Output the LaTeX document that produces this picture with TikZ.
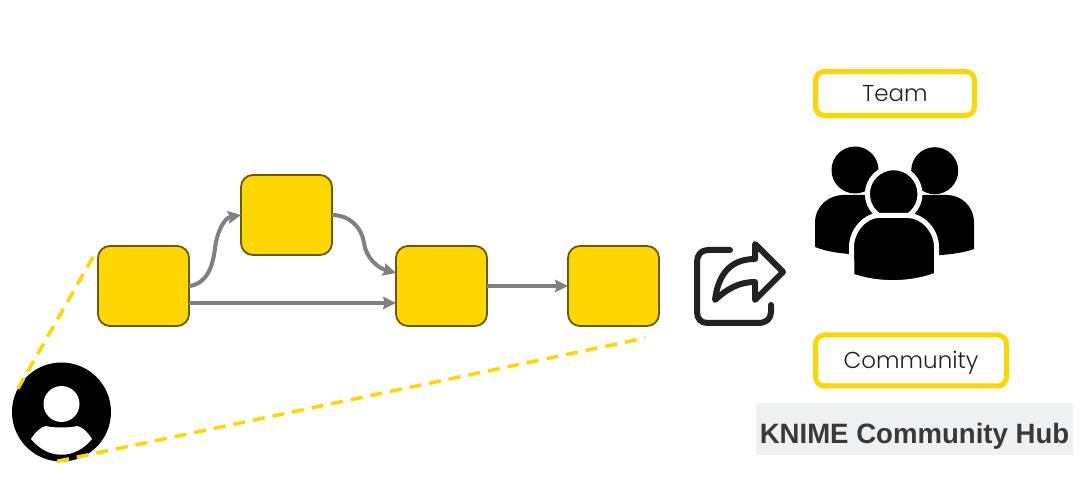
\documentclass[tikz,border=0pt]{standalone}
\usepackage{fontspec}
\setmainfont{Poppins Light}
\newfontfamily\hubfont[FakeStretch=0.985]{Liberation Sans}
\usetikzlibrary{arrows.meta, positioning}
\definecolor{hubyellow}{HTML}{FFD700}
\definecolor{hubborder}{HTML}{6B5A00}
\definecolor{hubgray}{HTML}{808080}
\definecolor{hubdark}{HTML}{222222}
\definecolor{hubtext}{HTML}{3B3838}
\definecolor{hubback}{HTML}{EFF0F2}

\begin{document}
\begin{tikzpicture}[x=1pt, y=-1pt, 
                    main node/.style= {rectangle,
                      rounded corners=12pt,
                      fill=hubyellow,
                      draw=hubborder,
                      line width=1.8pt,
                      outer sep=0pt,
                      minimum width=91pt,
                      minimum height=80pt},
                    label box/.style= {rectangle,
                      rounded corners=9pt,
                      fill=white,
                      draw=hubyellow,
                      line width=5pt,
                      outer sep=0pt,
                      text=hubdark,
                      text height=17pt,
                      text depth=0pt,
                      font=\fontsize{23}{27}\selectfont},
                    flow/.style= {draw=hubgray,
                      line width=4pt,
                      -{Stealth[length=13pt,width=12.5pt,inset=2pt]}},
                    guide/.style= {draw=hubyellow,
                      line width=3.5pt,
                      dash pattern=on 12pt off 8pt},
                    icon line/.style= {draw=hubdark,
                      line width=6pt,
                      line cap=round,
                      line join=round}]
  \useasboundingbox (0,0) rectangle (1082,502);

  \node[main node] (source) at (143.5,286) {};
  \node[main node] (upper) at (286.5,215) {};
  \node[main node] (merge) at (441.5,286) {};
  \node[main node] (target) at (613.5,286) {};

  \node[circle, fill=black, minimum size=99pt, inner sep=0pt, outer sep=0pt] (user) at (61.5,412) {};
  \coordinate (corner) at (97,250);
  \coordinate (below) at (645,338);

  \fill[white] (61.5,404) circle (18);
  \fill[white] (31,439) .. controls (36,431) and (41,427) .. (46,426)
    .. controls (52,428) and (71,428) .. (77,426)
    .. controls (82,427) and (87,431) .. (92,439)
    .. controls (75,460) and (48,460) .. cycle;

  \path[guide] (user.152) -- (corner);
  \path[guide] (user.-95) -- (below);

  \path[flow] (source.east) .. controls (207,284) and (213,266) .. (215,248)
    .. controls (217,232) and (224,218) .. (upper.west);
  \path[flow] (upper.east) .. controls (350,215) and (362,228) .. (364,243)
    .. controls (366,258) and (378,268) .. ([yshift=13pt]merge.west);
  \path[flow] ([yshift=-17pt]source.east) -- ([yshift=-17pt]merge.west);
  \path[flow] (merge) ++(45.5,0) -- (target.west);

  \draw[icon line] (730,250) -- (708,250) .. controls (701,250) and (697,255) .. (697,262)
    -- (697,312) .. controls (697,319) and (701,323) .. (708,323)
    -- (758,323) .. controls (766,323) and (771,319) .. (771,312) -- (771,305);
  \draw[icon line] (783,272) -- (755,244) -- (755,259)
    .. controls (730,259) and (718,275) .. (715,300)
    .. controls (728,288) and (740,282) .. (755,282)
    -- (755,300) -- cycle;

  \fill[black] (855,170) circle (23.5);
  \fill[black] (934.7,170.7) circle (23.5);
  \fill[black] (815,247) -- (815,223) .. controls (815,205) and (830,195) .. (843,195)
    -- (880,195) -- (880,255) .. controls (850,255) and (830,253) .. cycle;
  \fill[black] (974,249) -- (974,223) .. controls (974,205) and (960,195) .. (947,195)
    -- (910,195) -- (910,256) .. controls (940,256) and (960,254) .. cycle;
  \fill[black, draw=white, line width=5pt] (893.7,194) circle (26.3);
  \filldraw[black, draw=white, line width=5pt, line join=round] (852,276) -- (851.5,247)
    .. controls (851.5,230) and (866,215.5) .. (878,215.5) -- (908,215.5)
    .. controls (922,215.5) and (936.5,230) .. (936.5,247) -- (936.5,275)
    .. controls (910,285) and (878,285) .. cycle;

  \node[label box, minimum width=159pt, minimum height=44pt] (team) at (895,93.5) {Team};
  \node[label box, minimum width=191pt, minimum height=51pt] (community) at (911,360.5) {Community};
  \node[fill=hubback, minimum width=317pt, minimum height=52pt, inner sep=0pt, text=hubtext,
    text height=28pt, text depth=0pt,
    font=\hubfont\bfseries\fontsize{28}{32}\selectfont] (hub) at (914.5,429) {KNIME Community Hub};
\end{tikzpicture}
\end{document}
